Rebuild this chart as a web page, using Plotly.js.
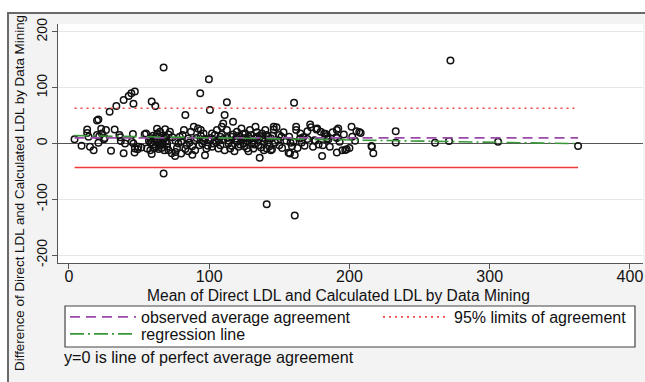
<!DOCTYPE html>
<html><head><meta charset="utf-8">
<script src="https://cdn.plot.ly/plotly-3.0.1.min.js"></script>
<style>
html,body{margin:0;padding:0;background:#fff;width:645px;height:382px;overflow:hidden;}
#frame{position:absolute;left:7px;top:12px;width:700px;height:400px;background:#f3f3f3;border-top:2px solid #6a6a6a;border-left:2px solid #6a6a6a;}
#chart{position:absolute;left:0;top:0;width:645px;height:382px;}
</style></head><body>
<div id="frame"></div>
<div id="chart"></div>
<script>
// Mean of the two methods (x) and their difference (y)
const meanLDL = [4,9,13,13,14,15,17.6,20,21,20,21,23,23.5,25.5,26.4,29,30,32.6,33.8,36.6,37,39,40,39,42.6,44.5,47,46,45.6,46,47,46.8,49,51.6,54,55.7,44.8,36,25,21.6,49.5,55,
58,59,61.6,59,62.8,65,67.5,67.5,
57,58,59,60,61,62,63,64,65,66,67,68,69,70,71,62,64,66,68,60,63,65,67,69,58,61,
68.6,72,73.8,70,71,75.7,73.3,78,79,82,83,84,85,87,89,89.5,90,92,93.6,94,95,96,97,98,99.5,99.8,100.5,102,103,104,105.5,106.6,108,109,110,111,112.6,112.6,113.8,115,116,117,118.6,119.8,121,122,123,124.5,125.7,127,128,129,130.5,131.6,133,134,135,136,137.6,139,140,141,142,
76,77,80,81,83,86,88,91,93,94,96,97,99,101,102,104,105,107,108,109,110,111,113,114,116,117,118,119,120,121,122,123,124,125,126,127,128,129,130,131,132,133,134,135,136,137,138,139,140,141,142,143,144,145,76,80,85,88,
144,144.8,146,146,148,149,150,151.5,156.6,157.6,158,160,160.5,161,162,162,164.8,167,172,172.6,174,175,175.7,176.5,177,179.5,180.5,181,182,183,184,184,185,190.7,191,192,191,191,195,196,197,198,201.5,204,207,208,215.7,216,217,141,161,
147,150,152,153,155,157,159,163,165,166,168,170,170,178,186,188,193,200,202,205,
233,233,261,271,272,306,363];
const diffLDL = [7.5,-4,25,19,12,-6,-12,41,43,15,1.5,26.5,18,10,24,57,-13,25,67,11,4.5,78,0,-17.5,85,90,93,71,17,0,-9,-16,-10.5,-7,16.5,-9,3,15,7.5,13,-6,18,
-12,75,67,-19,26.5,21,-53.5,136,
5,10,2,-2,8,12,4,-4,6,14,0,9,3,-6,16,-6,-10,-8,-12,14,18,-1,7,11,2,-8,
25.5,21,11,0,-12,-22.5,-17.6,0,12,24,51,-3,9,21,30,6,-12,27,90,24,0,18,-21,-9,6,115,60,18,0,6,24,-9,12,30,36,51,74,24,0,-9,12,39,6,21,-6,12,27,0,18,-9,12,24,0,-9,30,12,-3,-25.5,18,3,24,-9,12,
5,-8,3,15,-10,2,-5,10,-3,14,4,8,-4,10,-6,15,2,5,-3,16,8,-12,10,5,-4,16,-14,9,3,14,-2,7,17,-5,10,4,-14,8,15,5,-2,10,20,6,14,-7,10,-12,8,15,2,-5,9,14,-15,-18,-14,-20,
-12,-10.5,25,30,29,6,-3,12,-16.5,-18,1.5,3,73,-20.6,30,24,9,11,34,29,-6,6,5,25,27,21,-22.5,-3,18,17,9,13.5,7.5,11,24,27,10,-16,-12,16,-11.7,-10.5,30,5,20.6,19,-4.5,-6,-17.6,-109,-129,
2,15,-8,20,5,12,-5,-8,18,2,-4,22,8,-2,-6,20,3,-8,12,22,
22,2,1.5,4.5,148.5,3,-4.5];

// Summary statistics
const meanDiff = 10;
const upperLoA = 63;
const lowerLoA = -43;
const regIntercept = 14.3;
const regSlope = -0.04;

const xTicks = [0,100,200,300,400];
const yTicks = [-200,-100,0,100,200];

const xMin = Math.min(...meanLDL), xMax = Math.max(...meanLDL);
const lineX = [xMin, xMax];

const font = 'Arial, "Liberation Sans", Helvetica, sans-serif';
const legFont = {size:16, color:'#111'};

const traces = [
  {x: meanLDL, y: diffLDL, type:'scatter', mode:'markers', showlegend:false,
   marker:{symbol:'circle-open', size:6.5, color:'#111', line:{width:1.5, color:'#111'}}},
  {x: lineX, y: [meanDiff, meanDiff], type:'scatter', mode:'lines', name:'observed average agreement', legend:'legend',
   line:{color:'#9a4aa8', width:1.6, dash:'10px,6px'}},
  {x: lineX, y: [upperLoA, upperLoA], type:'scatter', mode:'lines', name:'95% limits of agreement', legend:'legend2',
   line:{color:'#f04545', width:1.6, dash:'2px,4px'}},
  {x: lineX, y: [lowerLoA, lowerLoA], type:'scatter', mode:'lines', showlegend:false,
   line:{color:'#f03a3a', width:1.4}},
  {x: lineX, y: lineX.map(v => regIntercept + regSlope*v), type:'scatter', mode:'lines', name:'regression line', legend:'legend3',
   line:{color:'#3a963a', width:1.6, dash:'14px,4px,2px,4px'}}
];

const legBase = {xanchor:'left', yanchor:'middle', bgcolor:'rgba(0,0,0,0)', borderwidth:0, font:legFont, itemwidth:66};

const layout = {
  width:645, height:382,
  margin:{l:58, r:2, t:24, b:119, autoexpand:false},
  paper_bgcolor:'rgba(0,0,0,0)', plot_bgcolor:'#ffffff',
  font:{family:font, color:'#111', size:16},
  xaxis:{range:[-7.8,409.3], tickvals:xTicks, ticktext:xTicks.map(String), showgrid:false, zeroline:false,
         showline:true, linecolor:'#555', linewidth:1.3, ticks:'outside', ticklen:5, tickcolor:'#555',
         ticklabelstandoff:-7, tickfont:{size:16, color:'#111'}},
  yaxis:{range:[-214,214], tickvals:yTicks, ticktext:yTicks.map(String), showgrid:true, gridcolor:'#e6e6e6', gridwidth:1,
         zeroline:true, zerolinecolor:'#555', zerolinewidth:1.6,
         showline:true, linecolor:'#555', linewidth:1.3, ticks:'outside', ticklen:5, tickcolor:'#555',
         ticklabelstandoff:-1, tickangle:-90, tickfont:{size:14, color:'#111'}},
  showlegend:true,
  legend:Object.assign({x:0.012, y:-0.2259}, legBase),
  legend2:Object.assign({x:0.547, y:-0.2259}, legBase),
  legend3:Object.assign({x:0.012, y:-0.297}, legBase),
  shapes:[
    {type:'rect', xref:'paper', yref:'paper', x0:0.012, x1:0.9863, y0:-0.3515, y1:-0.18,
     line:{color:'#444', width:1.2}, fillcolor:'#ffffff', layer:'above'}
  ],
  annotations:[
    {text:'Mean of Direct LDL and Calculated LDL by Data Mining', xref:'paper', yref:'paper', x:0.48, y:0,
     yshift:-32, xanchor:'center', yanchor:'middle', showarrow:false, font:{size:15.6, color:'#111'}},
    {text:'Difference of Direct LDL and Calculated LDL by Data Mining', xref:'paper', yref:'paper', x:0, xshift:-38,
     y:0.293, xanchor:'center', yanchor:'middle', textangle:-90, showarrow:false, font:{size:13.4, color:'#111'}},
    {text:'y=0 is line of perfect average agreement', xref:'paper', yref:'paper', x:0.0068, xanchor:'left',
     y:-0.393, yanchor:'middle', showarrow:false, font:{size:16.2, color:'#111'}}
  ]
};

Plotly.newPlot('chart', traces, layout, {displayModeBar:false, staticPlot:true});
</script>
</body></html>
